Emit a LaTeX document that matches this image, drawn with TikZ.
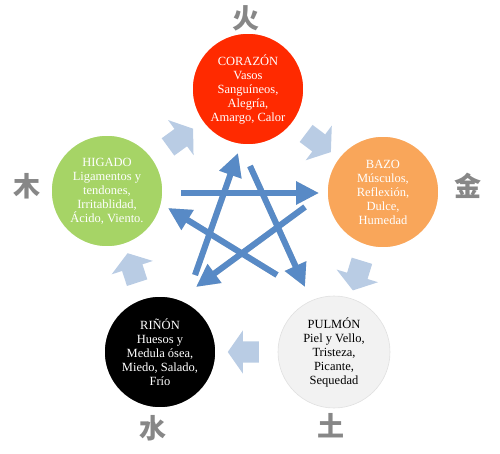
\documentclass[tikz,border=0pt]{standalone}
\usepackage{fontspec}
\setmainfont{Liberation Serif}
\newfontfamily\cjk{Noto Sans CJK SC}
\definecolor{wxred}{RGB}{255,42,0}
\definecolor{wxorange}{RGB}{249,166,90}
\definecolor{wxgreen}{RGB}{166,212,102}
\definecolor{wxgray}{RGB}{242,242,242}
\definecolor{wxblue}{RGB}{88,138,198}
\definecolor{wxpale}{RGB}{185,204,228}
\definecolor{wxink}{RGB}{135,135,135}
\usetikzlibrary{arrows.meta,calc,shapes.arrows}

\begin{document}
\begin{tikzpicture}[
  x=1pt, y=-1pt,
  every node/.style={font=\fontsize{12.5}{14}\selectfont, align=center},
  organ/.style={circle, minimum size=112pt, inner sep=0pt, draw=white, line width=1.5pt},
  redorgan/.style={organ, fill=wxred, text=white},
  orangeorgan/.style={organ, fill=wxorange, text=white},
  greenorgan/.style={organ, fill=wxgreen, text=white},
  blackorgan/.style={organ, fill=black, text=white},
  grayorgan/.style={organ, fill=wxgray, draw=black!12, line width=0.6pt, text=black},
  cycarrow/.style={single arrow, fill=wxpale, draw=none, inner xsep=0pt, inner ysep=10.5pt,
                   minimum height=31pt, single arrow head extend=11pt,
                   single arrow tip angle=110},
  element/.style={font=\cjk\bfseries\fontsize{27}{27}\selectfont, text=wxink},
  star/.style={-{Triangle[length=23pt,width=22pt]}, wxblue, line width=6pt},
  starshadow/.style={star, draw=black, fill=black, opacity=0.18},
]
\useasboundingbox (0,0) rectangle (500,454);

% Organs
\node[redorgan] (cor) at (248,89) {CORAZÓN\\Vasos\\Sanguíneos,\\Alegría,\\Amargo, Calor};
\node[orangeorgan] (baz) at (383,192) {BAZO\\Músculos,\\Reflexión,\\Dulce,\\Humedad};
\node[greenorgan] (hig) at (107,191) {HIGADO\\Ligamentos y\\tendones,\\Irritablidad,\\Ácido, Viento.};
\node[blackorgan] (rin) at (160,352) {RIÑÓN\\Huesos y\\Medula ósea,\\Miedo, Salado,\\Frío};
\node[grayorgan] (pul) at (334,352) {PULMÓN\\Piel y Vello,\\Tristeza,\\Picante,\\Sequedad};

% Elements
\node[element] (fire) at (246,18) {火};
\node[element] (metal) at (468,186) {金};
\node[element] (wood) at (27,186) {木};
\node[element] (water) at (153,428) {水};
\node[element] (earth) at (331,426) {土};

% Outer cycle
\node[cycarrow, rotate=36] (c1) at ($(hig)!0.5!(cor)$) {};
\node[cycarrow, rotate=-37] (c2) at ($(cor)!0.5!(baz)$) {};
\node[cycarrow, rotate=-107] (c3) at ($(baz)!0.5!(pul)$) {};
\node[cycarrow, rotate=180] (c4) at ($(pul)!0.5!(rin)$) {};
\node[cycarrow, rotate=108] (c5) at ($(rin)!0.5!(hig)$) {};

% Star ends
\coordinate (hig-out) at (181,193);
\coordinate (baz-in) at (319,193);
\coordinate (cor-out) at (250,166);
\coordinate (pul-in) at (305,287);
\coordinate (baz-out) at (305,207);
\coordinate (rin-in) at (196,287);
\coordinate (pul-out) at (277,275);
\coordinate (hig-in) at (168,208);
\coordinate (rin-out) at (195,275);
\coordinate (cor-in) at (238,153);

% Star
\begin{scope}[shift={(2,3)}]
\foreach \a/\b in {hig/baz,cor/pul,baz/rin,pul/hig,rin/cor}
  \draw[starshadow] (\a-out) -- (\b-in);
\end{scope}
\foreach \a/\b in {hig/baz,cor/pul,baz/rin,pul/hig,rin/cor}
  \draw[star] (\a-out) -- (\b-in);

\end{tikzpicture}
\end{document}
